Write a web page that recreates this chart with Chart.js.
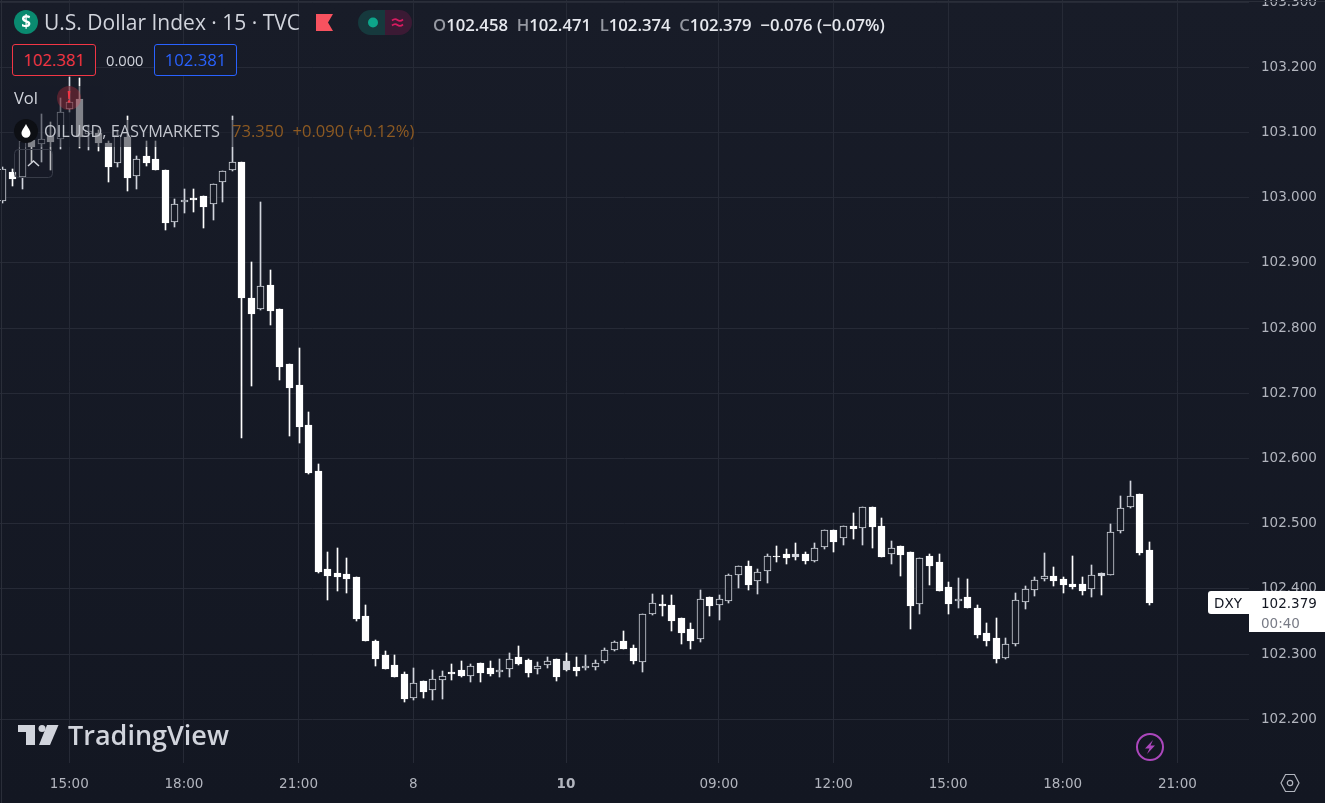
<!DOCTYPE html>
<html>
<head>
<meta charset="utf-8">
<title>U.S. Dollar Index</title>
<script src="https://cdn.jsdelivr.net/npm/chart.js@4"></script>
<style>
html, body { margin: 0; padding: 0; width: 1325px; height: 803px; overflow: hidden; }
body { background: linear-gradient(180deg, #181c28 0%, #131722 100%); font-family: "Open Sans", sans-serif; color: #d1d4dc; position: relative; }
canvas { position: absolute; left: 0; top: 0; }
.abs { position: absolute; white-space: nowrap; }
.edge { position: absolute; background: #2a2e39; }
.dim { position: absolute; background: rgba(24, 28, 40, 0.55); }
.price-box { position: absolute; box-sizing: border-box; height: 32px; top: 44px; border-radius: 3px; border: 1px solid; background: #181c28; text-align: center; font-size: 16.7px; line-height: 30px; }
.ohlc { left: 433px; top: 14px; font-size: 16.7px; line-height: 22px; font-weight: 600; color: #e6e8ee; }
.ohlc i { font-style: normal; color: #9598a1; }
.tag { font-family: "DejaVu Sans"; font-size: 13.5px; line-height: 20px; }
</style>
</head>
<body>
<canvas id="chart" width="1325" height="803"></canvas>

<div class="edge" style="left:1px;top:0;width:1px;height:803px"></div>
<div class="edge" style="left:0;top:1px;width:1325px;height:1px"></div>

<div class="dim" style="left:13px;top:86px;width:90px;height:34px"></div>
<div class="dim" style="left:13px;top:120px;width:405px;height:27px"></div>
<div class="dim" style="left:14px;top:147px;width:38px;height:30px;background:rgba(24,28,40,.3)"></div>

<!-- header -->
<svg class="abs" style="left:14px;top:10px" width="24" height="24">
  <circle cx="12" cy="12" r="12" fill="#0a8a70"/>
  <text x="12" y="18" text-anchor="middle" font-family="Open Sans" font-weight="700" font-size="17" fill="#fff">$</text>
</svg>
<div class="abs" style="left:44px;top:8px;font-size:21px;line-height:28px">U.S. Dollar Index · 15 · TVC</div>
<svg class="abs" style="left:316px;top:14px" width="17" height="17"><path d="M0 0H17L12 8.5L17 17H0Z" fill="#f7525f"/></svg>
<svg class="abs" style="left:358px;top:10px" width="54" height="25">
  <path d="M27 0H12.5A12.5 12.5 0 0 0 12.5 25H27Z" fill="#16393d"/>
  <path d="M27 0H41.5A12.5 12.5 0 0 1 41.5 25H27Z" fill="#3b1a34"/>
  <circle cx="15" cy="12.5" r="5" fill="#0da58a"/>
  <path d="M34 10.5q3-2.5 5.5-.5t5.500-.5M34 15.500q3-2.500 5.500-.5t5.500-.5" stroke="#d81b60" stroke-width="1.700" fill="none"/>
</svg>
<div class="abs ohlc"><i>O</i>102.458&nbsp; <i>H</i>102.471&nbsp; <i>L</i>102.374&nbsp; <i>C</i>102.379&nbsp; −0.076 (−0.07%)</div>

<div class="price-box" style="left:12px;width:84px;border-color:#f23645;color:#f23645">102.381</div>
<div class="abs" style="left:106px;top:50px;font-size:14.7px;line-height:20px">0.000</div>
<div class="price-box" style="left:154px;width:83px;border-color:#2962ff;color:#2962ff">102.381</div>

<div class="abs" style="left:14px;top:87px;font-size:16.5px;line-height:21px">Vol</div>
<svg class="abs" style="left:57px;top:86px" width="24" height="24">
  <circle cx="12" cy="12" r="12" fill="rgba(242,54,69,.28)"/>
  <path d="M10.700 5H13.300L12.700 13H11.300Z" fill="#f23645"/><circle cx="12" cy="15.500" r="1.200" fill="#f23645"/>
</svg>

<svg class="abs" style="left:14px;top:119px" width="24" height="24">
  <circle cx="12" cy="12" r="12" fill="#0d0f14"/>
  <path d="M12 5C10 9 7.500 11.500 7.500 14.300A4.500 4.500 0 0 0 16.500 14.300C16.500 11.500 14 9 12 5Z" fill="#fff"/>
</svg>
<div class="abs" style="left:44px;top:120px;font-size:16.3px;line-height:22px;font-weight:500;color:#c3c6ce">OILUSD, EASYMARKETS</div>
<div class="abs" style="left:232px;top:120px;font-size:16.6px;line-height:22px;color:#8d5a22">73.350&nbsp; +0.090 (+0.12%)</div>

<svg class="abs" style="left:14px;top:149px" width="39" height="29">
  <rect x=".5" y=".5" width="38" height="28" rx="4" fill="none" stroke="#383c48"/>
  <path d="M14 17L19.500 12L25 17" stroke="#d1d4dc" stroke-width="1.500" fill="none"/>
</svg>

<!-- watermark -->
<svg class="abs" style="left:18px;top:725px" width="41" height="21">
  <path d="M0 0H17V20H8V7H0Z" fill="#d1d4dc"/>
  <circle cx="24" cy="3.500" r="3.500" fill="#d1d4dc"/>
  <path d="M29 0H40.500L32 20H21Z" fill="#d1d4dc"/>
</svg>
<div class="abs" style="left:68px;top:716px;font-size:27px;line-height:38px;font-weight:600;color:#d1d4dc">TradingView</div>

<!-- price tag -->
<div class="abs" style="left:1208px;top:591px;width:117px;height:23px;background:#fff;border-radius:3px 0 0 3px"></div>
<div class="abs" style="left:1249px;top:614px;width:76px;height:18px;background:#fff"></div>
<div class="abs tag" style="left:1214px;top:593px;color:#131722">DXY</div>
<div class="abs tag" style="left:1261px;top:593px;color:#131722">102.379</div>
<div class="abs tag" style="left:1261px;top:613px;color:#787b86">00:40</div>

<svg class="abs" style="left:1135px;top:732px" width="30" height="30">
  <circle cx="15" cy="15" r="13" fill="none" stroke="#ab47bc" stroke-width="2"/>
  <path d="M18 8L10 16.500H14.500L12 22L20 13.500H15.500Z" fill="#ab47bc"/>
</svg>
<svg class="abs" style="left:1280px;top:773px" width="20" height="20">
  <path d="M5.500 1.500H14.500L19 10L14.500 18.500H5.500L1 10Z" fill="none" stroke="#b2b5be" stroke-width="1.200"/>
  <circle cx="10" cy="10" r="2.700" fill="none" stroke="#b2b5be" stroke-width="1.200"/>
</svg>

<script>
// 15 minute bars, numbered from the 15:00 bar
const firstBar = -7;

const opens = [102.995,103.039,103.032,103.089,103.082,103.095,103.090,103.136,103.151,103.098,103.099,103.084,103.053,103.093,103.033,103.064,103.059,103.043,102.963,102.993,102.999,103.003,102.990,103.024,103.043,103.055,102.846,102.829,102.866,102.829,102.745,102.713,102.651,102.581,102.430,102.424,102.423,102.418,102.358,102.320,102.299,102.283,102.270,102.233,102.259,102.245,102.260,102.273,102.276,102.266,102.286,102.279,102.273,102.277,102.296,102.291,102.277,102.283,102.292,102.289,102.280,102.279,102.280,102.289,102.306,102.320,102.309,102.288,102.362,102.377,102.375,102.355,102.338,102.323,102.388,102.375,102.381,102.421,102.435,102.412,102.427,102.450,102.454,102.454,102.454,102.443,102.464,102.490,102.478,102.496,102.493,102.526,102.496,102.454,102.466,102.457,102.377,102.450,102.441,102.403,102.381,102.388,102.371,102.332,102.325,102.294,102.315,102.380,102.398,102.415,102.420,102.415,102.408,102.408,102.400,102.424,102.421,102.489,102.526,102.546,102.460];

const highs = [103.047,103.044,103.092,103.099,103.128,103.116,103.153,103.185,103.184,103.111,103.104,103.087,103.104,103.125,103.064,103.087,103.087,103.043,102.998,103.013,103.013,103.003,103.021,103.041,103.125,103.055,102.901,102.993,102.889,102.829,102.745,102.770,102.671,102.592,102.457,102.463,102.447,102.418,102.375,102.322,102.305,102.299,102.273,102.279,102.259,102.276,102.274,102.285,102.289,102.285,102.286,102.289,102.292,102.302,102.312,102.292,102.288,102.296,102.292,102.302,102.296,102.299,102.291,102.309,102.320,102.335,102.314,102.362,102.392,102.391,102.391,102.355,102.348,102.398,102.388,102.391,102.423,102.435,102.443,102.430,102.454,102.466,102.461,102.470,102.457,102.470,102.490,102.490,102.496,102.516,102.526,102.526,102.509,102.473,102.466,102.457,102.447,102.454,102.454,102.411,102.417,102.415,102.375,102.348,102.355,102.325,102.394,102.404,102.418,102.455,102.434,102.418,102.450,102.418,102.437,102.424,102.500,102.542,102.566,102.546,102.472];

const lows = [102.992,103.018,103.013,103.055,103.055,103.043,103.075,103.131,103.076,103.073,103.072,103.024,103.047,103.010,103.013,103.049,103.042,102.950,102.955,102.977,102.978,102.954,102.966,102.993,103.041,102.631,102.711,102.828,102.805,102.720,102.635,102.624,102.576,102.424,102.383,102.397,102.394,102.351,102.320,102.282,102.277,102.265,102.226,102.230,102.233,102.230,102.231,102.260,102.265,102.257,102.257,102.266,102.265,102.265,102.283,102.265,102.270,102.279,102.259,102.274,102.266,102.276,102.276,102.286,102.305,102.308,102.285,102.273,102.360,102.358,102.335,102.315,102.308,102.319,102.358,102.352,102.378,102.401,102.398,102.392,102.409,102.441,102.438,102.444,102.438,102.441,102.461,102.457,102.467,102.477,102.467,102.463,102.449,102.438,102.420,102.338,102.362,102.406,102.397,102.362,102.371,102.371,102.325,102.312,102.286,102.292,102.312,102.369,102.389,102.412,102.404,102.394,102.400,102.391,102.388,102.391,102.421,102.486,102.524,102.452,102.375];

const closes = [103.044,103.029,103.087,103.078,103.090,103.085,103.131,103.147,103.093,103.102,103.084,103.047,103.096,103.030,103.059,103.053,103.043,102.961,102.990,102.996,102.997,102.986,103.021,103.041,103.055,102.846,102.822,102.865,102.826,102.740,102.708,102.648,102.578,102.426,102.420,102.418,102.415,102.354,102.320,102.292,102.277,102.265,102.231,102.256,102.242,102.262,102.266,102.270,102.266,102.282,102.271,102.270,102.276,102.292,102.285,102.271,102.282,102.289,102.265,102.276,102.274,102.282,102.286,102.306,102.319,102.308,102.289,102.362,102.378,102.374,102.351,102.332,102.320,102.384,102.374,102.384,102.421,102.435,102.406,102.426,102.450,102.449,102.447,102.449,102.443,102.463,102.490,102.472,102.496,102.492,102.526,102.495,102.449,102.463,102.452,102.374,102.447,102.435,102.397,102.377,102.384,102.371,102.329,102.320,102.292,102.315,102.383,102.400,102.414,102.420,102.412,102.406,102.403,102.397,102.421,102.420,102.487,102.524,102.542,102.455,102.379];

// bars whose body is the lighter grey in the picture
const greyBars = [52, 76, 108];

const priceTicks = [102.2,102.3,102.4,102.5,102.6,102.7,102.8,102.9,103.0,103.1,103.2,103.3];
const timeTickBars = [0,12,24,36,52,68,80,92,104,116];
const timeTickLabels = ['15:00','18:00','21:00','8','10','09:00','12:00','15:00','18:00','21:00'];
const boldTimeTick = 52;

const panel = '#161a25';
const outline = '#d1d4dc';
const gridColor = '#262a36';

const barIds = opens.map((_, i) => firstBar + i);
const isUp = i => closes[i] > opens[i];

// snap to whole pixels so that the thin wicks stay crisp
const snapBars = {
    id: 'snapBars',
    beforeDatasetsDraw(chart) {
        chart.getSortedVisibleDatasetMetas().forEach(meta => {
            meta.data.forEach(bar => {
                bar.x = Math.round(bar.x) + 0.5;
                bar.y = Math.round(bar.y);
                bar.base = Math.round(bar.base);
                if (bar.base === bar.y) bar.base += 1;
            });
        });
    }
};

new Chart(document.getElementById('chart'), {
    type: 'bar',
    data: {
        labels: barIds,
        datasets: [
            {
                label: 'body',
                order: 1,
                grouped: false,
                barThickness: 7,
                borderSkipped: false,
                borderWidth: 1,
                data: opens.map((o, i) => [o, closes[i]]),
                backgroundColor: opens.map((_, i) => greyBars.includes(barIds[i]) ? outline : isUp(i) ? panel : '#ffffff'),
                borderColor: opens.map((_, i) => greyBars.includes(barIds[i]) || isUp(i) ? outline : '#ffffff')
            },
            {
                label: 'wick',
                order: 2,
                grouped: false,
                barThickness: 1,
                borderWidth: 0,
                data: lows.map((l, i) => [l, highs[i]]),
                backgroundColor: opens.map((_, i) => isUp(i) ? outline : '#ffffff')
            }
        ]
    },
    options: {
        responsive: false,
        animation: false,
        layout: { padding: 0 },
        plugins: { legend: { display: false }, tooltip: { enabled: false } },
        scales: {
            x: {
                type: 'linear',
                min: -7.255,
                max: 123.5,
                offset: false,
                border: { display: false },
                grid: { color: gridColor, drawTicks: false, offset: false },
                afterBuildTicks: scale => { scale.ticks = timeTickBars.map(v => ({ value: v })); },
                afterFit: scale => { scale.height = 40; scale.paddingLeft = 0; scale.paddingRight = 0; },
                ticks: {
                    autoSkip: false,
                    maxRotation: 0,
                    padding: 13,
                    color: '#b2b5be',
                    font: ctx => ({ family: 'DejaVu Sans', size: 13.5, weight: ctx.tick && ctx.tick.value === boldTimeTick ? '700' : '400' }),
                    callback: v => timeTickLabels[timeTickBars.indexOf(v)]
                }
            },
            y: {
                position: 'right',
                min: 102.133,
                max: 103.3032,
                border: { display: false },
                grid: { color: gridColor, drawTicks: false },
                afterBuildTicks: scale => { scale.ticks = priceTicks.map(v => ({ value: v })); },
                afterFit: scale => { scale.width = 76; scale.paddingTop = 0; scale.paddingBottom = 0; },
                ticks: {
                    padding: 12,
                    color: '#b2b5be',
                    font: { family: 'DejaVu Sans', size: 13.5 },
                    callback: v => v.toFixed(3)
                }
            }
        }
    },
    plugins: [snapBars]
});
</script>
</body>
</html>
